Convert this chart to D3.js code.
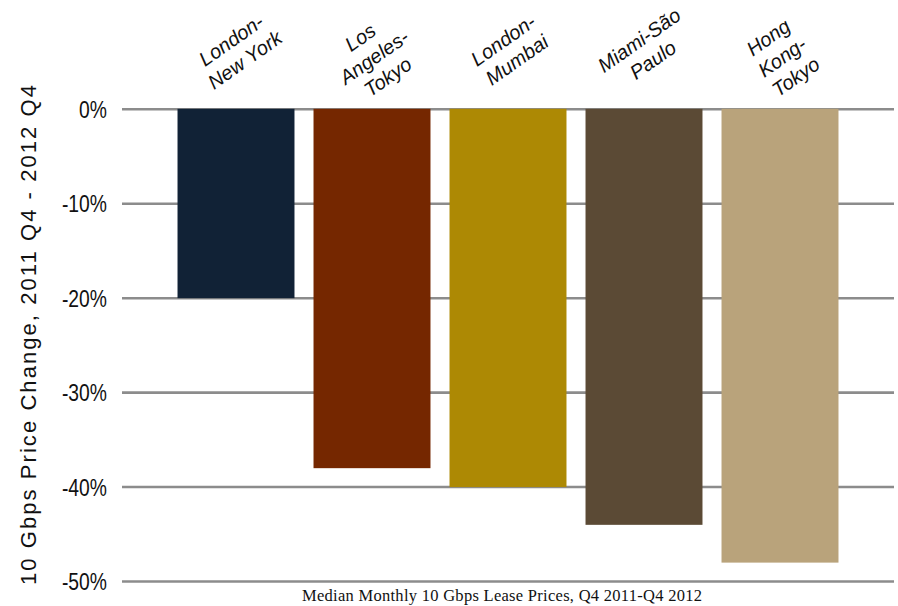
<!DOCTYPE html>
<html>
<head>
<meta charset="utf-8">
<script src="https://cdn.jsdelivr.net/npm/d3@7"></script>
<style>
  body { margin: 0; background: #fff; }
</style>
</head>
<body>
<div id="chart"></div>
<script>
// data
const routes = ["London-New York", "Los Angeles-Tokyo", "London-Mumbai", "Miami-São Paulo", "Hong Kong-Tokyo"]
const routeLines = [["London-", "New York"], ["Los", "Angeles-", "Tokyo"], ["London-", "Mumbai"], ["Miami-São", "Paulo"], ["Hong", "Kong-", "Tokyo"]]
const change = [-0.20, -0.38, -0.40, -0.44, -0.48]
const colors = ["#112236", "#752700", "#ad8904", "#5b4a35", "#b9a37b"]
const yTicks = [0, -0.1, -0.2, -0.3, -0.4, -0.5]

const width = 898
const height = 606

const svg = d3.select("#chart")
  .append("svg")
  .attr("width", width)
  .attr("height", height)

const x = d3.scaleBand()
  .domain(routes)
  .range([168, 848])
  .paddingInner(0.14)
  .paddingOuter(0.07)

const y = d3.scaleLinear()
  .domain([0, -0.5])
  .range([109.3, 581.5])

// grid lines
svg.append("g")
  .selectAll("line")
  .data(yTicks)
  .enter()
  .append("line")
    .attr("x1", 122)
    .attr("x2", 894)
    .attr("y1", d => y(d))
    .attr("y2", d => y(d))
    .attr("stroke", "#8c8c8c")
    .attr("stroke-width", 2.6)

// tick labels
svg.append("g")
  .selectAll("text")
  .data(yTicks)
  .enter()
  .append("text")
    .attr("transform", d => "translate(107," + (y(d) + 8.5) + ") scale(0.84,1)")
    .attr("text-anchor", "end")
    .attr("font-family", "Liberation Sans, Arial, sans-serif")
    .attr("font-size", 23)
    .attr("fill", "#111")
    .text(d => d3.format(".0%")(d).replace("−", "-"))

// bars
svg.append("g")
  .selectAll("rect")
  .data(d3.zip(routes, change, colors))
  .enter()
  .append("rect")
    .attr("x", d => x(d[0]))
    .attr("y", y(0) - 0.5)
    .attr("width", x.bandwidth())
    .attr("height", d => y(d[1]) - y(0) + 0.5)
    .attr("fill", d => d[2])

// rotated category labels
const lh = 24
const labels = svg.append("g")
  .selectAll("g")
  .data(d3.zip(routes, routeLines))
  .enter()
  .append("g")
    .attr("transform", d => {
      const n = d[1].length
      return "translate(" + (x(d[0]) + x.bandwidth() / 2 + 2) + "," + (n == 3 ? 57 : 50) + ") rotate(-35)"
    })

labels.selectAll("text")
  .data(d => d[1].map((t, i) => [t, i, d[1].length]))
  .enter()
  .append("text")
    .attr("text-anchor", "middle")
    .attr("y", d => (d[1] - (d[2] - 1) / 2) * lh + 7)
    .attr("font-family", "Liberation Sans, Arial, sans-serif")
    .attr("font-style", "italic")
    .attr("font-size", 20)
    .attr("fill", "#111")
    .text(d => d[0])

// y axis title
svg.append("text")
  .attr("transform", "translate(36,335) rotate(-90)")
  .attr("text-anchor", "middle")
  .attr("font-family", "Liberation Sans, Arial, sans-serif")
  .attr("font-size", 22)
  .attr("textLength", 500)
  .attr("lengthAdjust", "spacing")
  .attr("fill", "#111")
  .text("10 Gbps Price Change, 2011 Q4 - 2012 Q4")

// bottom title
svg.append("text")
  .attr("x", 502)
  .attr("y", 601)
  .attr("text-anchor", "middle")
  .attr("font-family", "Liberation Serif, Times New Roman, serif")
  .attr("font-size", 16.5)
  .attr("textLength", 400)
  .attr("lengthAdjust", "spacing")
  .attr("fill", "#111")
  .text("Median Monthly 10 Gbps Lease Prices, Q4 2011-Q4 2012")
</script>
</body>
</html>
